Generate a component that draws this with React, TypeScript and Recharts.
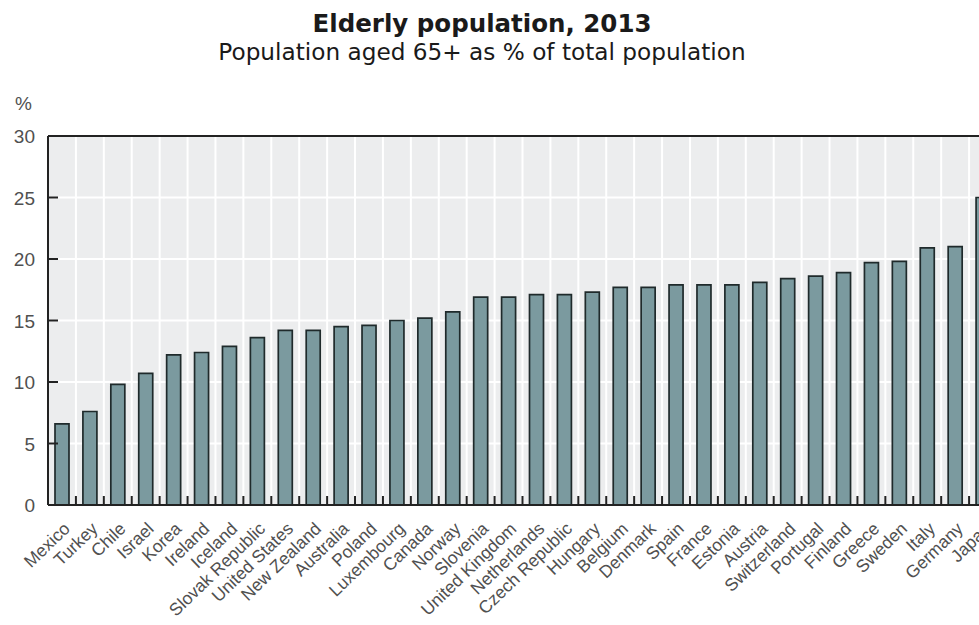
import React from "react";
import { BarChart, Bar, XAxis, YAxis, CartesianGrid, ReferenceLine } from "recharts";

// Share of population aged 65 and over, 2013 (%)
const countries = [
  "Mexico", "Turkey", "Chile", "Israel", "Korea", "Ireland", "Iceland", "Slovak Republic",
  "United States", "New Zealand", "Australia", "Poland", "Luxembourg", "Canada", "Norway",
  "Slovenia", "United Kingdom", "Netherlands", "Czech Republic", "Hungary", "Belgium",
  "Denmark", "Spain", "France", "Estonia", "Austria", "Switzerland", "Portugal", "Finland",
  "Greece", "Sweden", "Italy", "Germany", "Japan",
];
const shares = [
  6.6, 7.6, 9.8, 10.7, 12.2, 12.4, 12.9, 13.6,
  14.2, 14.2, 14.5, 14.6, 15.0, 15.2, 15.7,
  16.9, 16.9, 17.1, 17.1, 17.3, 17.7,
  17.7, 17.9, 17.9, 17.9, 18.1, 18.4, 18.6, 18.9,
  19.7, 19.8, 20.9, 21.0, 25.0,
];
const yTicks = [0, 5, 10, 15, 20, 25, 30];

const data = countries.map((country, i) => ({ country, share: shares[i] }));

const CHART_W = 1010;
const CHART_H = 625;
const PLOT_LEFT = 48;
const PLOT_RIGHT = 997;
const PLOT_TOP = 136;
const PLOT_BOTTOM = 505;
const STEP = (PLOT_RIGHT - PLOT_LEFT) / countries.length;

const TITLE_FONT = "'DejaVu Sans', sans-serif";
const LABEL_FONT = "'Liberation Sans', Arial, sans-serif";
const LABEL_COLOR = "#505050";

const YTick = (props: any) => {
  const { x, y, payload } = props;
  return (
    <g>
      <line x1={PLOT_LEFT} y1={y} x2={PLOT_LEFT + 10} y2={y} stroke="#222" strokeWidth={2} />
      <text x={x} y={y} dy={7} textAnchor="end" fontSize={19} fontFamily={LABEL_FONT} fill={LABEL_COLOR}>
        {payload.value}
      </text>
    </g>
  );
};

const XTick = (props: any) => {
  const { x, payload } = props;
  const bx = x - STEP / 2;
  return (
    <g>
      {bx > PLOT_LEFT + 1 && (
        <line x1={bx} y1={PLOT_BOTTOM} x2={bx} y2={PLOT_BOTTOM - 9} stroke="#222" strokeWidth={2} />
      )}
      <g transform={`translate(${x + 9},${PLOT_BOTTOM + 25})`}>
        <text x={0} y={0} textAnchor="end" transform="rotate(-44)" fontSize={17.5} fontFamily={LABEL_FONT} fill={LABEL_COLOR}>
          {payload.value}
        </text>
      </g>
    </g>
  );
};

export default function App() {
  return (
    <div
      style={{
        position: "fixed",
        left: 0,
        top: 0,
        width: 979,
        height: 625,
        overflow: "hidden",
        background: "#fff",
      }}
    >
      <svg width={979} height={120} style={{ position: "absolute", left: 0, top: 0 }}>
        <text x={482} y={32} textAnchor="middle" fontFamily={TITLE_FONT} fontWeight={700} fontSize={24.5} fill="#1a1a1a">
          Elderly population, 2013
        </text>
        <text x={482} y={60} textAnchor="middle" fontFamily={TITLE_FONT} fontSize={23.2} fill="#1a1a1a">
          Population aged 65+ as % of total population
        </text>
        <text x={15} y={110} fontFamily={LABEL_FONT} fontSize={19} fill={LABEL_COLOR}>
          %
        </text>
      </svg>
      <BarChart
        width={CHART_W}
        height={CHART_H}
        data={data}
        margin={{ top: PLOT_TOP, right: CHART_W - PLOT_RIGHT, bottom: 0, left: 0 }}
        barCategoryGap={0}
      >
        <CartesianGrid
          fill="#ecedee"
          stroke="#ffffff"
          strokeWidth={2}
          verticalCoordinatesGenerator={({ offset }: any) =>
            countries.map((_, i) => offset.left + i * STEP)
          }
        />
        <XAxis
          dataKey="country"
          interval={0}
          height={CHART_H - PLOT_BOTTOM}
          tickSize={0}
          tickMargin={0}
          tickLine={false}
          axisLine={{ stroke: "#222", strokeWidth: 2 }}
          tick={<XTick />}
        />
        <YAxis
          type="number"
          domain={[0, 30]}
          ticks={yTicks}
          width={PLOT_LEFT}
          tickSize={0}
          tickMargin={13}
          tickLine={false}
          axisLine={{ stroke: "#222", strokeWidth: 2 }}
          tick={<YTick />}
        />
        <ReferenceLine y={30} stroke="#222" strokeWidth={2} />
        <Bar
          dataKey="share"
          barSize={14}
          fill="#7b9a9f"
          stroke="#1f2a2b"
          strokeWidth={1.7}
          isAnimationActive={false}
        />
      </BarChart>
    </div>
  );
}
